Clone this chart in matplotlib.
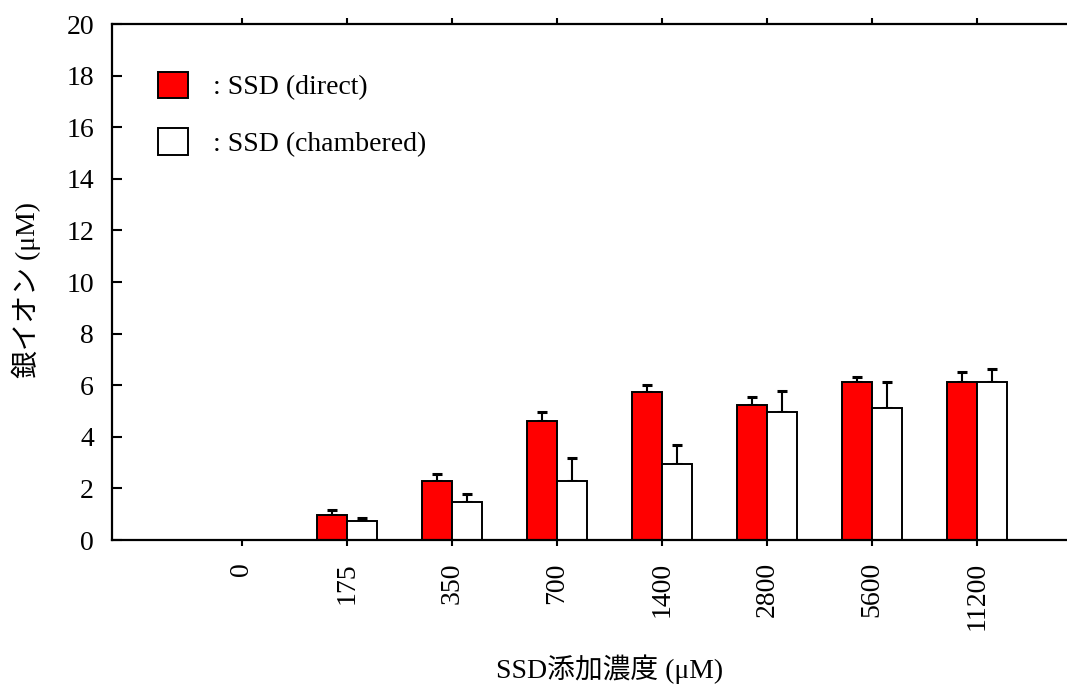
import numpy as np
import matplotlib
matplotlib.use("Agg")
import matplotlib.pyplot as plt

plt.rcParams['font.family'] = ['Liberation Serif', 'Noto Sans CJK JP']

# SSD concentrations (uM) and measured silver ion (uM)
concentrations = ['0', '175', '350', '700', '1400', '2800', '5600', '11200']
direct_mean = [0, 0.95, 2.30, 4.61, 5.75, 5.25, 6.11, 6.11]
direct_err = [0, 0.21, 0.26, 0.35, 0.27, 0.31, 0.19, 0.39]
chambered_mean = [0, 0.75, 1.49, 2.30, 2.95, 4.96, 5.13, 6.11]
chambered_err = [0, 0.10, 0.31, 0.86, 0.75, 0.80, 0.98, 0.51]

x = np.arange(len(concentrations))
w = 0.29
fs = 20

fig = plt.figure(figsize=(10.67, 6.84), dpi=100)
ax = fig.add_axes([112/1067, 1 - 540/684, 955/1067, 516/684])

b1 = ax.bar(x - w/2, direct_mean, w, color='#ff0000', edgecolor='black', linewidth=1.4,
            label=': SSD (direct)', zorder=2)
b2 = ax.bar(x + w/2, chambered_mean, w, color='white', edgecolor='black', linewidth=1.4,
            label=': SSD (chambered)', zorder=2)

# upper error bars only, skip the empty control group
m = np.array(direct_mean) > 0
ax.errorbar((x - w/2)[m], np.array(direct_mean)[m],
            yerr=[np.zeros(m.sum()), np.array(direct_err)[m]],
            fmt='none', ecolor='black', elinewidth=1.5, capsize=3.3, capthick=2.2, zorder=1)
ax.errorbar((x + w/2)[m], np.array(chambered_mean)[m],
            yerr=[np.zeros(m.sum()), np.array(chambered_err)[m]],
            fmt='none', ecolor='black', elinewidth=1.5, capsize=3.3, capthick=2.2, zorder=1)

ax.set_xlim(-1.238, 7.857)
ax.set_ylim(0, 20)
ax.set_yticks(np.arange(0, 21, 2))
ax.set_xticks(x)
ax.set_xticklabels(concentrations, rotation=90, fontsize=fs)
ax.tick_params(axis='y', direction='in', length=7, width=1.5, labelsize=fs, pad=13)
ax.tick_params(axis='x', direction='out', length=4, width=1.5, pad=12, top=True)

for s in ['left', 'bottom', 'top']:
    ax.spines[s].set_linewidth(1.6)
ax.spines['right'].set_visible(False)

ax.set_xlabel('SSD添加濃度 (μM)', fontsize=fs)
ax.xaxis.set_label_coords(0.521, -0.222)
ax.set_ylabel('銀イオン (μM)', fontsize=fs)
ax.yaxis.set_label_coords(-0.074, 0.4845)

ax.legend(handles=[b1, b2], loc='upper left', bbox_to_anchor=(0.048, 0.907),
          frameon=False, fontsize=fs, handlelength=1.08, handleheight=1.08,
          handletextpad=0.9, labelspacing=1.0, borderpad=0, borderaxespad=0)

fig.savefig('out.png', dpi=100)
